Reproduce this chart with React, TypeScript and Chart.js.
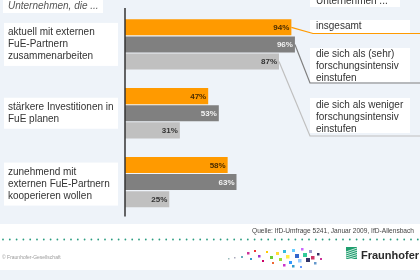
import React, { useEffect, useRef } from "react";
import { Chart, registerables } from "chart.js";

Chart.register(...registerables);

// Survey items (left-hand labels, one array of lines per category)
const categoryLines: string[][] = [
  ["aktuell mit externen", "FuE-Partnern", "zusammenarbeiten"],
  ["stärkere Investitionen in", "FuE planen"],
  ["zunehmend mit", "externen FuE-Partnern", "kooperieren wollen"],
];

// Share of companies, in percent
const insgesamt = [94, 47, 58];
const sehrIntensiv = [96, 53, 63];
const wenigerIntensiv = [87, 31, 25];

// Legend texts (lines)
const legendLines: string[][] = [
  ["insgesamt"],
  ["die sich als (sehr)", "forschungsintensiv", "einstufen"],
  ["die sich als weniger", "forschungsintensiv", "einstufen"],
];

const titleLeft = "Unternehmen, die ...";
const titleRight = "Unternehmen ...";
const sourceText = "Quelle: IfD-Umfrage 5241, Januar 2009, IfD-Allensbach";
const copyrightText = "© Fraunhofer-Gesellschaft";
const brandText = "Fraunhofer";

const ORANGE = "#ff9a00";
const DARK = "#808080";
const LIGHT = "#c0c0c0";
const PANEL = "#eef3f9";
const TEXT = "#333333";
const FONT = '"Liberation Sans", Arial, sans-serif';

const barColors = [ORANGE, DARK, LIGHT];
const valueColors = ["#4a2c00", "#f2f2f2", "#333333"];

// decorative pixel cloud in the footer: [x, y, size, colour]
const cloud: [number, number, number, string][] = [
  [228, 258, 1.5, "#9bb"], [234, 257, 1.5, "#aab"], [241, 256, 2, "#6ab"],
  [247, 252, 2.5, "#c39"], [250, 258, 2, "#39c"], [254, 250, 2, "#e33"],
  [258, 255, 2.5, "#93c"], [262, 260, 2, "#c06"], [266, 251, 2, "#fc0"],
  [270, 256, 3, "#6c3"], [272, 262, 2, "#e63"], [276, 252, 3, "#fd3"],
  [279, 258, 3, "#9d3"], [283, 250, 3, "#3bd"], [286, 255, 3.5, "#fe4"],
  [289, 261, 3, "#39f"], [292, 249, 3, "#6cf"], [295, 254, 4, "#36c"],
  [298, 259, 3.5, "#9cf"], [301, 248, 2.5, "#c6f"], [303, 253, 4, "#3c9"],
  [306, 258, 4, "#336"], [309, 250, 3, "#99c"], [311, 256, 3.5, "#c36"],
  [314, 262, 2.5, "#69c"], [317, 253, 2.5, "#336"], [320, 258, 2, "#c39"],
  [283, 264, 2.5, "#c3c"], [292, 265, 2.5, "#39c"], [300, 266, 2, "#69f"],
];

const slidePlugin = {
  id: "slide",
  beforeDraw(chart: any) {
    const { ctx, width, height } = chart;
    const y = chart.scales.y;
    ctx.save();
    ctx.fillStyle = "#ffffff";
    ctx.fillRect(0, 0, width, height);
    ctx.fillStyle = PANEL;
    ctx.fillRect(0, 0, width, 224);
    ctx.fillRect(0, 270, width, height - 270);

    ctx.fillStyle = "#ffffff";
    // title boxes
    ctx.fillRect(3, 0, 100, 13);
    ctx.fillRect(310, 0, 90, 7);
    // category label boxes
    categoryLines.forEach((lines, i) => {
      const cy = y.getPixelForValue(i) + (i === 2 ? 2 : 0);
      const h = lines.length * 12 + 7;
      ctx.fillRect(4, cy - h / 2, 114, h);
    });
    // legend boxes
    ctx.fillRect(310, 20, 100, 13);
    ctx.fillRect(310, 48, 100, 34);
    ctx.fillRect(310, 98, 100, 35);
    ctx.restore();
  },
  afterDatasetsDraw(chart: any) {
    const { ctx } = chart;
    ctx.save();
    ctx.font = `bold 8px ${FONT}`;
    ctx.textAlign = "right";
    ctx.textBaseline = "middle";
    chart.data.datasets.forEach((ds: any, di: number) => {
      const meta = chart.getDatasetMeta(di);
      meta.data.forEach((bar: any, i: number) => {
        ctx.fillStyle = valueColors[di];
        ctx.fillText(`${ds.data[i]}%`, bar.x - 2, bar.y + 0.5);
      });
    });
    ctx.restore();
  },
  afterDraw(chart: any) {
    const { ctx, chartArea, width } = chart;
    const xs = chart.scales.x;
    const ys = chart.scales.y;
    ctx.save();

    // value axis line
    const x0 = xs.getPixelForValue(0);
    ctx.strokeStyle = "#333";
    ctx.lineWidth = 1.5;
    ctx.beginPath();
    ctx.moveTo(x0, chartArea.top - 2);
    ctx.lineTo(x0, chartArea.bottom);
    ctx.stroke();

    // titles
    ctx.fillStyle = "#555";
    ctx.font = `italic 10px ${FONT}`;
    ctx.textAlign = "left";
    ctx.textBaseline = "middle";
    ctx.fillText(titleLeft, 8, 6.5);
    ctx.fillStyle = TEXT;
    ctx.font = `10px ${FONT}`;
    ctx.fillText(titleRight, 316, 1);

    // category labels
    ctx.fillStyle = TEXT;
    ctx.font = `10px ${FONT}`;
    categoryLines.forEach((lines, i) => {
      const cy = ys.getPixelForValue(i) + (i === 2 ? 2 : 0);
      const top = cy - ((lines.length - 1) * 12) / 2;
      lines.forEach((t, k) => ctx.fillText(t, 8, top + k * 12));
    });

    // legend texts
    const legendTop = [26.5, 54, 105];
    legendLines.forEach((lines, i) => {
      lines.forEach((t, k) => ctx.fillText(t, 316, legendTop[i] + k * 12));
    });

    // connectors from the first group's bar ends to the legend
    const legendBottom = [33.5, 83, 136];
    const legendCorner = [313, 310, 310];
    ctx.lineWidth = 1.2;
    [0, 1, 2].forEach((di) => {
      const bar = chart.getDatasetMeta(di).data[0];
      ctx.strokeStyle = barColors[di];
      ctx.beginPath();
      ctx.moveTo(bar.x, bar.y);
      ctx.lineTo(legendCorner[di], legendBottom[di]);
      ctx.lineTo(width, legendBottom[di]);
      ctx.stroke();
    });

    // footer: source
    ctx.fillStyle = "#444";
    ctx.font = `6.6px ${FONT}`;
    ctx.textAlign = "right";
    ctx.fillText(sourceText, 414, 231);

    // dotted rule
    ctx.fillStyle = "#2a9d80";
    for (let x = 3; x < width; x += 6.8) {
      ctx.beginPath();
      ctx.arc(x, 239.5, 0.9, 0, Math.PI * 2);
      ctx.fill();
    }

    // copyright
    ctx.textAlign = "left";
    ctx.fillStyle = "#9a9a9a";
    ctx.font = `5px ${FONT}`;
    ctx.fillText(copyrightText, 2, 258);

    // pixel cloud
    cloud.forEach(([cx, cy, s, c]) => {
      ctx.fillStyle = c;
      ctx.fillRect(cx, cy, s, s);
    });

    // brand mark
    ctx.fillStyle = "#1f9e6e";
    ctx.fillRect(346, 247, 11, 12);
    ctx.strokeStyle = "#ffffff";
    ctx.lineWidth = 0.8;
    for (let k = 0; k < 5; k++) {
      ctx.beginPath();
      ctx.moveTo(346, 252 + k * 2);
      ctx.lineTo(357, 248 + k * 2.2);
      ctx.stroke();
    }
    ctx.fillStyle = "#2b2b2b";
    ctx.font = `bold 11px ${FONT}`;
    ctx.textBaseline = "alphabetic";
    ctx.fillText(brandText, 361, 259);

    ctx.restore();
  },
};

export default function App() {
  const canvasRef = useRef<HTMLCanvasElement | null>(null);

  useEffect(() => {
    if (!canvasRef.current) return;
    const chart = new Chart(canvasRef.current, {
      type: "bar",
      data: {
        labels: categoryLines.map((l) => l.join(" ")),
        datasets: [
          { label: legendLines[0].join(" "), data: insgesamt, backgroundColor: ORANGE },
          { label: legendLines[1].join(" "), data: sehrIntensiv, backgroundColor: DARK },
          { label: legendLines[2].join(" "), data: wenigerIntensiv, backgroundColor: LIGHT },
        ],
      },
      options: {
        indexAxis: "y",
        responsive: false,
        animation: false,
        layout: { padding: { left: 125, right: 118, top: 10, bottom: 63.5 } },
        datasets: { bar: { categoryPercentage: 0.745, barPercentage: 0.94 } },
        plugins: { legend: { display: false }, tooltip: { enabled: false } },
        scales: {
          x: { display: false, min: 0, max: 100 },
          y: { display: false },
        },
      },
      plugins: [slidePlugin],
    });
    return () => chart.destroy();
  }, []);

  return (
    <div style={{ position: "absolute", left: 0, top: 0, width: 420, height: 280 }}>
      <canvas ref={canvasRef} width={420} height={280} />
    </div>
  );
}
